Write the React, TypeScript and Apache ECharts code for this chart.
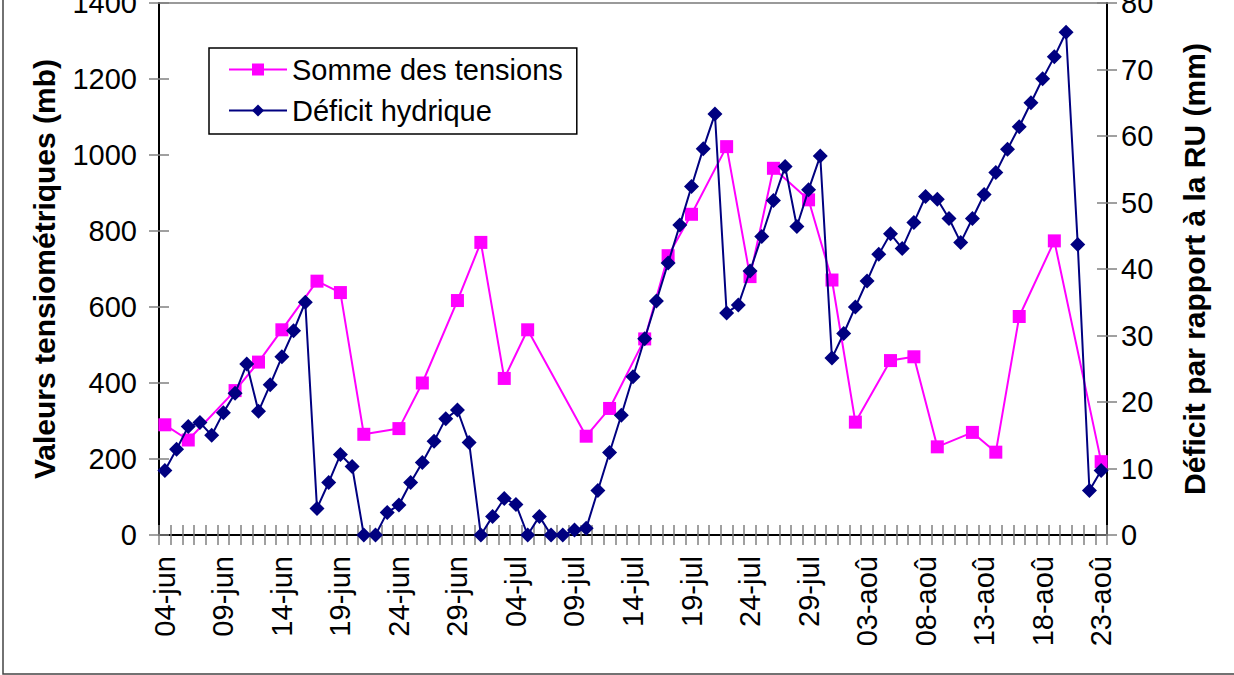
import React, { useEffect, useRef } from "react";
import * as echarts from "echarts";

// Categories: daily dates from 04-jun to 23-aoû
const MONTHS: [string, number, number][] = [
  ["jun", 4, 30],
  ["jul", 1, 31],
  ["aoû", 1, 23],
];
const dates: string[] = [];
MONTHS.forEach(([m, a, b]) => {
  for (let d = a; d <= b; d++) dates.push(String(d).padStart(2, "0") + "-" + m);
});

// Somme des tensions (mb) — measured days only
const tensionDates = [
  "04-jun", "06-jun", "10-jun", "12-jun", "14-jun", "17-jun", "19-jun", "21-jun",
  "24-jun", "26-jun", "29-jun", "01-jul", "03-jul", "05-jul", "10-jul", "12-jul",
  "15-jul", "17-jul", "19-jul", "22-jul", "24-jul", "26-jul", "29-jul", "31-jul",
  "02-aoû", "05-aoû", "07-aoû", "09-aoû", "12-aoû", "14-aoû", "16-aoû", "19-aoû", "23-aoû",
];
const tensionValues = [
  290, 250, 380, 455, 540, 668, 638, 265,
  280, 400, 617, 770, 412, 540, 260, 333,
  516, 735, 844, 1022, 680, 965, 882, 671,
  297, 459, 469, 232, 270, 218, 575, 774, 193,
];

// Déficit hydrique (mm), one value per day
const deficitValues = [
  9.7, 12.9, 16.3, 16.9, 15.0, 18.4, 21.3, 25.7, 18.6, 22.6,
  26.8, 30.7, 35.0, 4.0, 7.9, 12.1, 10.3, 0, 0, 3.4,
  4.5, 7.9, 10.9, 14.1, 17.5, 18.8, 13.9, 0, 2.8, 5.5,
  4.6, 0, 2.8, 0, 0, 0.75, 1.0, 6.7, 12.4, 18.0,
  23.8, 29.5, 35.2, 40.9, 46.6, 52.4, 58.1, 63.3, 33.4, 34.6,
  39.7, 44.9, 50.3, 55.4, 46.4, 51.9, 57.0, 26.6, 30.3, 34.3,
  38.2, 42.2, 45.3, 43.1, 47.0, 50.9, 50.5, 47.6, 44.0, 47.6,
  51.2, 54.5, 58.0, 61.4, 65.0, 68.6, 71.9, 75.6, 43.7, 6.7,
  9.7,
];

const FONT = "'Liberation Sans', Arial, sans-serif";

export default function App() {
  const ref = useRef<HTMLDivElement>(null);
  useEffect(() => {
    if (!ref.current) return;
    const chart = echarts.init(ref.current, undefined, { renderer: "svg" });
    const tensionData = dates.map((d) => {
      const k = tensionDates.indexOf(d);
      return k >= 0 ? tensionValues[k] : null;
    });
    const tickStyle = { color: "#808080", width: 1.5 };
    const plain = (v: number) => String(v);
    chart.setOption({
      animation: false,
      backgroundColor: "#ffffff",
      textStyle: { fontFamily: FONT },
      grid: {
        left: 159,
        right: 127,
        top: 3,
        bottom: 140,
        outerBoundsMode: "none",
        containLabel: false,
        show: true,
        borderColor: "#9a9a9a",
        borderWidth: 2,
        backgroundColor: "transparent",
      },
      legend: {
        orient: "vertical",
        left: 209,
        top: 48,
        padding: [7, 14, 9, 19],
        itemWidth: 58,
        itemHeight: 15,
        itemGap: 12,
        borderColor: "#000",
        borderWidth: 1.5,
        backgroundColor: "#fff",
        textStyle: { fontSize: 29, color: "#000", fontFamily: FONT },
        data: ["Somme des tensions", "Déficit hydrique"],
      },
      xAxis: [
        {
          type: "category",
          data: dates,
          boundaryGap: true,
          position: "bottom",
          axisLine: { show: true, onZero: false, lineStyle: { color: "#000", width: 2 } },
          axisTick: { show: true, interval: 0, length: 10, lineStyle: tickStyle },
          axisLabel: {
            interval: 4,
            rotate: 90,
            margin: 21,
            fontSize: 29,
            color: "#000",
            fontFamily: FONT,
          },
          splitLine: { show: false },
        },
        {
          type: "category",
          data: dates,
          boundaryGap: true,
          position: "bottom",
          offset: 0,
          axisLine: { show: false },
          axisTick: { show: true, inside: true, interval: 0, length: 10, lineStyle: tickStyle },
          axisLabel: { show: false },
          splitLine: { show: false },
        },
      ],
      yAxis: [
        {
          type: "value",
          position: "left",
          min: 0,
          max: 1400,
          interval: 200,
          name: "Valeurs tensiométriques (mb)",
          nameLocation: "middle",
          nameRotate: 90,
          nameGap: 100,
          nameTextStyle: { fontSize: 30, fontWeight: "bold", color: "#000", fontFamily: FONT },
          axisLine: { show: true, lineStyle: { color: "#000", width: 2 } },
          axisTick: { show: true, length: 10, lineStyle: tickStyle },
          axisLabel: { margin: 22, fontSize: 29, color: "#000", fontFamily: FONT, formatter: plain },
          splitLine: { show: false },
        },
        {
          type: "value",
          position: "right",
          min: 0,
          max: 80,
          interval: 10,
          name: "Déficit par rapport à la RU (mm)",
          nameLocation: "middle",
          nameRotate: 90,
          nameGap: 72,
          nameTextStyle: { fontSize: 30, fontWeight: "bold", color: "#000", fontFamily: FONT },
          axisLine: { show: true, lineStyle: { color: "#000", width: 2 } },
          axisTick: { show: true, length: 10, lineStyle: tickStyle },
          axisLabel: { margin: 14, fontSize: 29, color: "#000", fontFamily: FONT, formatter: plain },
          splitLine: { show: false },
        },
        {
          type: "value",
          position: "left",
          offset: 0,
          min: 0,
          max: 1400,
          interval: 200,
          axisLine: { show: false },
          axisTick: { show: true, inside: true, length: 10, lineStyle: tickStyle },
          axisLabel: { show: false },
          splitLine: { show: false },
        },
        {
          type: "value",
          position: "right",
          offset: 0,
          min: 0,
          max: 80,
          interval: 10,
          axisLine: { show: false },
          axisTick: { show: true, inside: true, length: 10, lineStyle: tickStyle },
          axisLabel: { show: false },
          splitLine: { show: false },
        },
      ],
      series: [
        {
          name: "Somme des tensions",
          type: "line",
          xAxisIndex: 0,
          yAxisIndex: 0,
          data: tensionData,
          connectNulls: true,
          showAllSymbol: true,
          symbol: "rect",
          symbolSize: 13,
          itemStyle: { color: "#FF00FF" },
          lineStyle: { color: "#FF00FF", width: 2 },
          z: 2,
        },
        {
          name: "Déficit hydrique",
          type: "line",
          xAxisIndex: 0,
          yAxisIndex: 1,
          data: deficitValues,
          showAllSymbol: true,
          symbol: "diamond",
          symbolSize: 15,
          itemStyle: { color: "#000080" },
          lineStyle: { color: "#000080", width: 2 },
          z: 3,
        },
      ],
      graphic: [
        {
          type: "rect",
          shape: { x: 3, y: -10, width: 1260, height: 684 },
          style: { fill: "none", stroke: "#444", lineWidth: 1.5 },
          silent: true,
        },
      ],
    });
    return () => chart.dispose();
  }, []);
  return (
    <div
      ref={ref}
      style={{ position: "fixed", left: 0, top: 0, width: 1234, height: 675, background: "#fff" }}
    />
  );
}
